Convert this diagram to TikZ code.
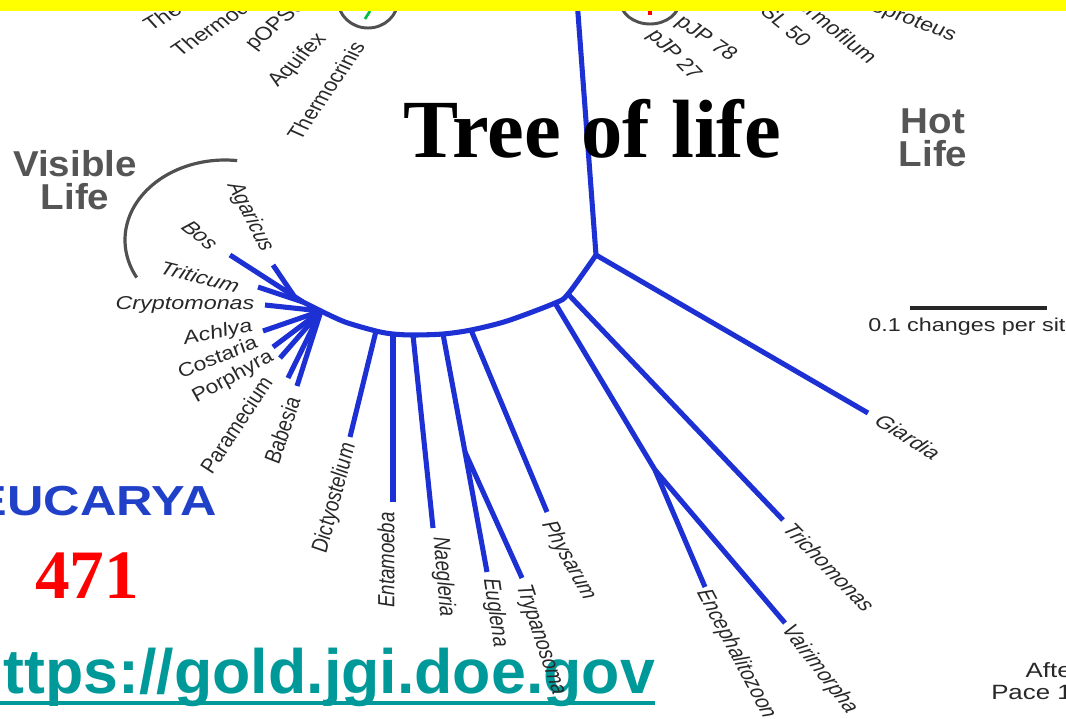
\documentclass[tikz,border=0pt]{standalone}
\usepackage{fontspec}
\setmainfont{Liberation Sans}
\newfontfamily\serifb{Liberation Serif}
\definecolor{treeblue}{RGB}{28,48,212}
\definecolor{eublue}{RGB}{32,64,200}
\definecolor{urlc}{RGB}{0,153,153}
\definecolor{biggray}{RGB}{85,85,85}
\definecolor{labc}{RGB}{40,40,40}
\definecolor{ovalgray}{RGB}{80,80,80}
\definecolor{barc}{RGB}{255,255,0}
\begin{document}
\begin{tikzpicture}[x={(0.75pt,0)}, y={(0,-0.75pt)},
  br/.style={draw=treeblue, line width=3.8pt},
  lbl/.style={font=\fontsize{14}{14}\selectfont\itshape, text=labc, inner sep=0pt, xscale=1.25},
  ulbl/.style={font=\fontsize{14}{14}\selectfont, text=labc, inner sep=0pt, xscale=1.25},
  big/.style={font=\fontsize{27}{24.75}\selectfont\bfseries, text=biggray, align=center, inner sep=0pt},
]
\useasboundingbox (0,0) rectangle (1066,718);
\clip (0,0) rectangle (1066,718);
\fill[white] (0,0) rectangle (1066,718);

% URL (under the tree labels)
\node[font=\fontsize{47}{47}\selectfont\bfseries, text=urlc, anchor=base east, inner sep=0pt] (url) at (655,693) {https://gold.jgi.doe.gov};
\draw[urlc, line width=3pt] ([yshift=-7.5pt]url.base west) -- ([yshift=-7.5pt]url.base east);

% ovals at top
\draw[ovalgray, line width=2.2pt] (368,0) ellipse [x radius=30, y radius=28];
\draw[green!50!teal, line width=2pt] (365,19) -- (370,11);
\draw[ovalgray, line width=2.2pt] (650,0) ellipse [x radius=30, y radius=24];
\fill[red] (648,11) rectangle (652,15);

% Visible life arc
\draw[ovalgray, line width=2.4pt] plot[domain=-83:-208, samples=50, smooth] ({225+100*cos(\x)},{240+80*sin(\x)});

% tree coordinates
\coordinate (top) at (577,0);
\coordinate (root) at (596,255);
\coordinate (n1) at (568,294);
\coordinate (n2) at (555,303);
\coordinate (a1) at (507,321);
\coordinate (pPhy) at (471,330);
\coordinate (pEug) at (443,334);
\coordinate (pNae) at (413,335);
\coordinate (pEnt) at (393,334);
\coordinate (pDic) at (376,331);
\coordinate (a2) at (345,322);
\coordinate (hub) at (321,311);
\coordinate (tGia) at (868,413);
\coordinate (tTri) at (783,520);
\coordinate (n3) at (655,470);
\coordinate (tEnc) at (705,587);
\coordinate (tVai) at (785,623);
\coordinate (tPhy) at (547,512);
\coordinate (nET) at (465,452);
\coordinate (tEug) at (487,572);
\coordinate (tTry) at (522,578);
\coordinate (tNae) at (433,528);
\coordinate (tEnt) at (393,502);
\coordinate (tDic) at (350,437);
\coordinate (hubA) at (303,302);
\coordinate (jAg) at (294,296);
\coordinate (tBos) at (230,255);
\coordinate (tAga) at (273,265);
\coordinate (tTrit) at (258,287);
\coordinate (tCry) at (265,305);
\coordinate (tAch) at (263,331);
\coordinate (tCos) at (273,347);
\coordinate (tPor) at (280,358);
\coordinate (tPar) at (288,378);
\coordinate (tBab) at (297,386);

% tree branches
\draw[br] (top) -- (root);
\draw[br] (root) -- (tGia);
\draw[br] plot[smooth] coordinates {(root) (n1) (n2) (a1) (pPhy) (pEug) (pNae) (pEnt) (pDic) (a2) (hub)};
\draw[br] (n1) -- (tTri);
\draw[br] (n2) -- (n3) -- (tEnc);
\draw[br] (n3) -- (tVai);
\draw[br] (pPhy) -- (tPhy);
\draw[br] (pEug) -- (nET) -- (tEug);
\draw[br] (nET) -- (tTry);
\draw[br] (pNae) -- (tNae);
\draw[br] (pEnt) -- (tEnt);
\draw[br] (pDic) -- (tDic);
\draw[br] (hub) -- (hubA) -- (tBos);
\draw[br] (jAg) -- (tAga);
\draw[br] (hubA) -- (tTrit);
\draw[br] (hub) -- (tCry);
\draw[br] (hub) -- (tAch);
\draw[br] (hub) -- (tCos);
\draw[br] (hub) -- (tPor);
\draw[br] (hub) -- (tPar);
\draw[br] (hub) -- (tBab);

% top labels (cut by the bar)
\node[ulbl, anchor=west, rotate=36] (lThto) at (147,28) {Thermotoga};
\node[ulbl, anchor=west, rotate=40] (lThde) at (174,53) {Thermodesulfobacterium};
\node[ulbl, anchor=west, rotate=47] (lpops) at (250,48) {pOPS66};
\node[ulbl, anchor=west, rotate=51] (lAqu) at (273,85) {Aquifex};
\node[ulbl, anchor=west, rotate=61] (lThcr) at (293,138) {Thermocrinis};
\node[ulbl, anchor=west, rotate=-41] (lpJP78) at (678,20) {pJP 78};
\node[ulbl, anchor=west, rotate=-52] (lpJP27) at (651,32) {pJP 27};
\node[ulbl, anchor=east, rotate=-46] (lpSL) at (806,45) {pSL 50};
\node[ulbl, anchor=east, rotate=-45] (lThfi) at (874,60) {Thermofilum};
\node[ulbl, anchor=east, rotate=-25] (lThpr) at (955,37) {Thermoproteus};

% eukaryote labels
\node[lbl, rotate=-68] (lAga) at (250,217) {Agaricus};
\node[lbl, rotate=-45] (lBos) at (200,235) {Bos};
\node[lbl, rotate=-17] (lTrit) at (200,277) {Triticum};
\node[lbl] (lCry) at (185,305) {Cryptomonas};
\node[lbl, rotate=13] (lAch) at (218,333) {Achlya};
\node[lbl, rotate=27] (lCos) at (217,357) {Costaria};
\node[lbl, rotate=35] (lPor) at (233,377) {Porphyra};
\node[lbl, rotate=62] (lPar) at (236,425) {Paramecium};
\node[lbl, rotate=75] (lBab) at (282,430) {Babesia};
\node[lbl, rotate=78] (lDic) at (335,498) {Dictyostelium};
\node[lbl, rotate=90] (lEnt) at (386,560) {Entamoeba};
\node[lbl, rotate=-86] (lNae) at (443,577) {Naegleria};
\node[lbl, rotate=-83] (lEug) at (495,613) {Euglena};
\node[lbl, anchor=west, rotate=-75] (lTry) at (522,585) {Trypanosoma};
\node[lbl, anchor=west, rotate=-66] (lPhy) at (547,522) {Physarum};
\node[lbl, anchor=west, rotate=-67] (lEnc) at (702,590) {Encephalitozoon};
\node[lbl, anchor=west, rotate=-58] (lVai) at (786,627) {Vairimorpha};
\node[lbl, anchor=west, rotate=-52] (lTri) at (788,525) {Trichomonas};
\node[lbl, anchor=west, rotate=-38] (lGia) at (878,418) {Giardia};

% group labels
\node[big, xscale=1.07] (vis) at (75,180) {Visible\\Life};
\node[big, xscale=1.07] (hot) at (933,138) {Hot\\Life};
\node[font=\fontsize{31.5}{31.5}\selectfont\bfseries, text=eublue, anchor=base east, xscale=1.2, inner sep=0pt] (euc) at (217,515) {EUCARYA};

% scale bar
\coordinate (sb1) at (910,308);
\coordinate (sb2) at (1047,308);
\draw[black!85, line width=3pt] (sb1) -- (sb2);
\node[ulbl, anchor=base west, font=\fontsize{14}{14}\selectfont] (sbt) at (868,331) {0.1 changes per site};

\node[ulbl, align=center, font=\fontsize{15.5}{17}\selectfont] (pace) at (1053,681) {After\\Pace 1997};

% title and number
\node[font=\serifb\bfseries\fontsize{62}{62}\selectfont, anchor=base west, inner sep=0pt] (title) at (403,157) {Tree of life};
\node[font=\serifb\bfseries\fontsize{52}{52}\selectfont, text=red, anchor=base west, inner sep=0pt] (num) at (35,598) {471};

% yellow bar
\fill[barc] (0,0) rectangle (1066,11);
\end{tikzpicture}
\end{document}
